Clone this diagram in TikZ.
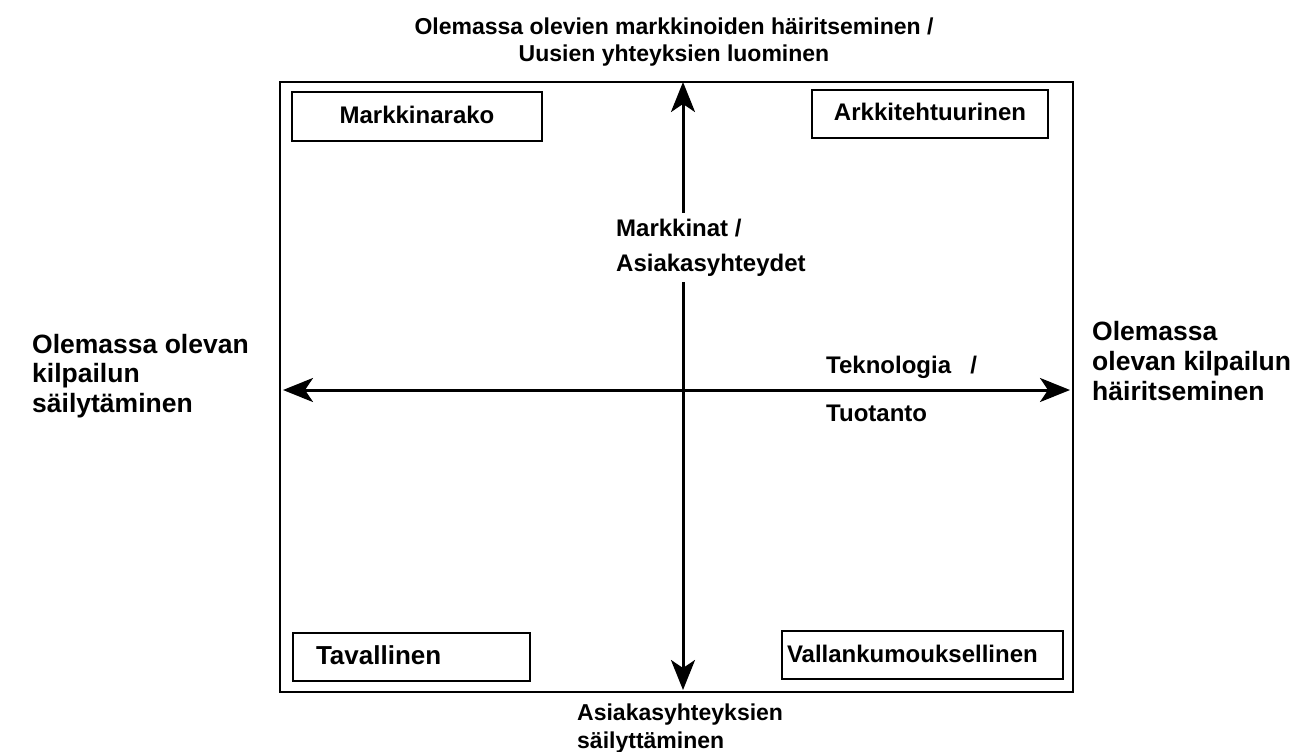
\documentclass[tikz,border=0pt]{standalone}
\usepackage{fontspec}
\setmainfont{Liberation Sans}
\usetikzlibrary{arrows.meta}
\begin{document}
\begin{tikzpicture}[x=1pt,y=-1pt,
  txt/.style={inner sep=0pt, anchor=base west, align=left, text=black},
  f24/.style={font=\fontsize{24}{35}\selectfont\bfseries},
  f23/.style={font=\fontsize{23}{27}\selectfont\bfseries},
  fbot/.style={font=\fontsize{23}{28}\selectfont\bfseries},
  fbig/.style={font=\fontsize{26.5}{29.5}\selectfont\bfseries},
  fright/.style={font=\fontsize{26.5}{30}\selectfont\bfseries},
  qbox/.style={draw=black, line width=2pt, rectangle, inner ysep=0pt,
    text height=17pt, text depth=3pt, minimum height=48pt, align=left},
  axis/.style={line width=3pt,
    {Stealth[length=30pt,width=24pt,inset=8pt]}-{Stealth[length=30pt,width=24pt,inset=8pt]}}]
\useasboundingbox (0,0) rectangle (1299,752);
% frame
\node[draw=black, line width=2pt, minimum width=793pt, minimum height=610pt, inner sep=0pt] (frame) at (676.5,387) {};
% axes
\coordinate (top) at (683,82);
\coordinate (bot) at (683,690);
\coordinate (lft) at (283,390);
\coordinate (rgt) at (1070,390);
\draw[axis] (bot) -- (top);
\draw[axis] (lft) -- (rgt);
% quadrant boxes
\node[qbox, f24, minimum width=250pt, align=center] (niche) at (417,116.5) {Markkinarako};
\node[qbox, f24, minimum width=236pt, align=center] (arch) at (930,114) {Arkkitehtuurinen};
\node[qbox, font=\fontsize{26}{30}\selectfont\bfseries, inner xsep=23pt, text width=191pt] (reg) at (411.5,657) {Tavallinen};
\node[qbox, f24, inner xsep=5pt, text width=271pt] (rev) at (922.5,655) {Vallankumouksellinen};
% axis labels
\node[txt, f23, align=center, anchor=base] (toplbl) at (674,62) {Olemassa olevien markkinoiden häiritseminen /\\Uusien yhteyksien luominen};
\node[txt, fbot] (botlbl) at (577,748) {Asiakasyhteyksien\\säilyttäminen};
\node[txt, fbig] (lftlbl) at (32,412) {Olemassa olevan\\kilpailun\\säilytäminen};
\node[txt, fright] (rgtlbl) at (1092,400) {Olemassa\\olevan kilpailun\\häiritseminen};
\node[txt, f24, fill=white, inner ysep=6pt, inner xsep=2pt] (mkt) at (614,271) {Markkinat /\\Asiakasyhteydet};
\node[txt, f24] (tek) at (826,373) {Teknologia\hspace{0.8em}/};
\node[txt, f24] (tuo) at (826,421) {Tuotanto};
\end{tikzpicture}
\end{document}
